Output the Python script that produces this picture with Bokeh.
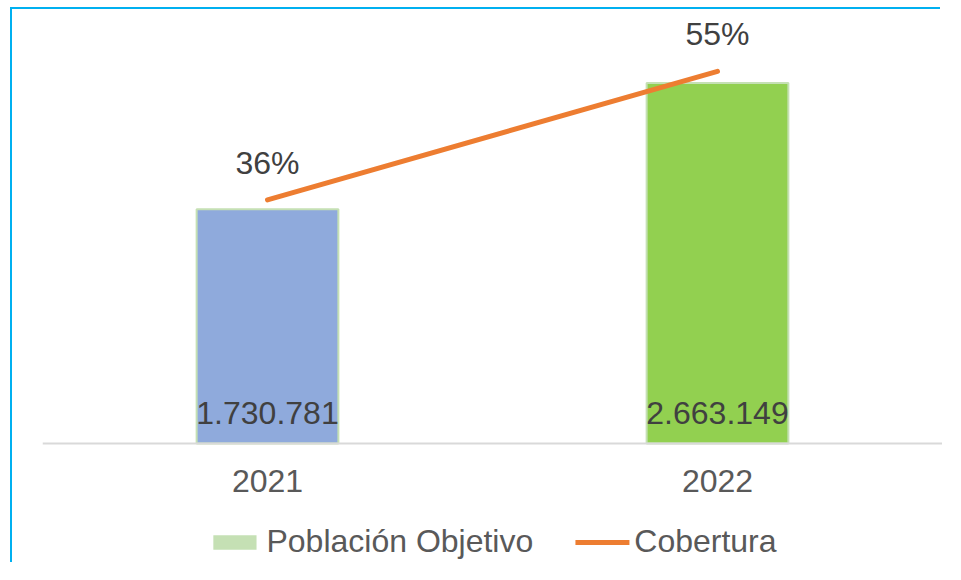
from bokeh.plotting import figure
from bokeh.layouts import column
from bokeh.models import ColumnDataSource, Range1d, FactorRange, Legend, LegendItem, Span, InlineStyleSheet
from bokeh.embed import file_html
from bokeh.resources import INLINE
from bokeh.core.properties import value

years = ["2021", "2022"]
poblacion = [1730781, 2663149]
poblacion_labels = ["1.730.781", "2.663.149"]
cobertura = [0.36, 0.55]
cobertura_labels = ["36%", "55%"]
bar_colors = ["#8FAADC", "#92D050"]

FONT = value("Liberation Sans")

# layout geometry (pixels)
ABOVE_PX = 406   # frame pixels from baseline to axis maximum
TOP_PX = 28      # frame pixels above the axis maximum (room for labels)
BELOW_PX = 121   # frame pixels below the baseline (room for category labels + legend)
Y_MAX = 3000000
PCT_MAX = 0.6

src = ColumnDataSource(dict(x=years, pob=poblacion, pob_lab=poblacion_labels,
                            cob=cobertura, cob_lab=cobertura_labels, color=bar_colors,
                            zero=[0, 0]))

p = figure(x_range=FactorRange(*years, range_padding=0),
           y_range=Range1d(-Y_MAX * BELOW_PX / ABOVE_PX, Y_MAX * (ABOVE_PX + TOP_PX) / ABOVE_PX),
           width=930, height=555, output_backend="svg", toolbar_location=None,
           min_border_left=30, min_border_right=0, min_border_top=0, min_border_bottom=0)
p.extra_y_ranges = {"pct": Range1d(-PCT_MAX * BELOW_PX / ABOVE_PX,
                                   PCT_MAX * (ABOVE_PX + TOP_PX) / ABOVE_PX)}
p.outline_line_color = None
p.xgrid.visible = False
p.ygrid.visible = False
p.xaxis.visible = False
p.yaxis.visible = False
p.background_fill_color = "white"
p.border_fill_color = "white"

# baseline (category axis line)
p.add_layout(Span(location=0, dimension="width", line_color="#D9D9D9", line_width=2))

bars = p.vbar(x="x", top="pob", width=0.315, source=src, fill_color="color",
              line_color="#C5E0B4", line_width=2)
legend_box = p.vbar(x="x", top="zero", bottom="zero", width=0.315, source=src,
                    fill_color="#C5E0B4", line_color=None)

line = p.line(x="x", y="cob", source=src, y_range_name="pct", line_color="#ED7D31",
              line_width=5, line_cap="round")

p.text(x="x", y="zero", text="pob_lab", source=src, text_align="center",
       text_baseline="alphabetic", y_offset=-31, text_font=FONT,
       text_font_size="32px", text_color="#404040")
p.text(x="x", y="cob", text="cob_lab", source=src, y_range_name="pct", text_align="center",
       text_baseline="alphabetic", y_offset=-37, text_font=FONT,
       text_font_size="32px", text_color="#404040")
# category labels
p.text(x="x", y="zero", text="x", source=src, text_align="center",
       text_baseline="alphabetic", y_offset=37, text_font=FONT,
       text_font_size="32px", text_color="#595959")

legend = Legend(items=[LegendItem(label="Población Objetivo", renderers=[legend_box]),
                       LegendItem(label="Cobertura", renderers=[line])],
                orientation="horizontal", location="bottom_center",
                glyph_width=54, glyph_height=18, label_standoff=5, spacing=42,
                padding=0, margin=4, border_line_color=None,
                label_text_font="Liberation Sans", label_text_font_size="32px",
                label_text_color="#595959", background_fill_alpha=0)
p.add_layout(legend, "center")

layout = column(p, stylesheets=[InlineStyleSheet(css=":host { margin-left: 12px; margin-top: 9px; "
                                                     "box-shadow: -2px -2px 0px 0px #00B0F0; }")])

open("out.html", "w").write(file_html(layout, INLINE))
